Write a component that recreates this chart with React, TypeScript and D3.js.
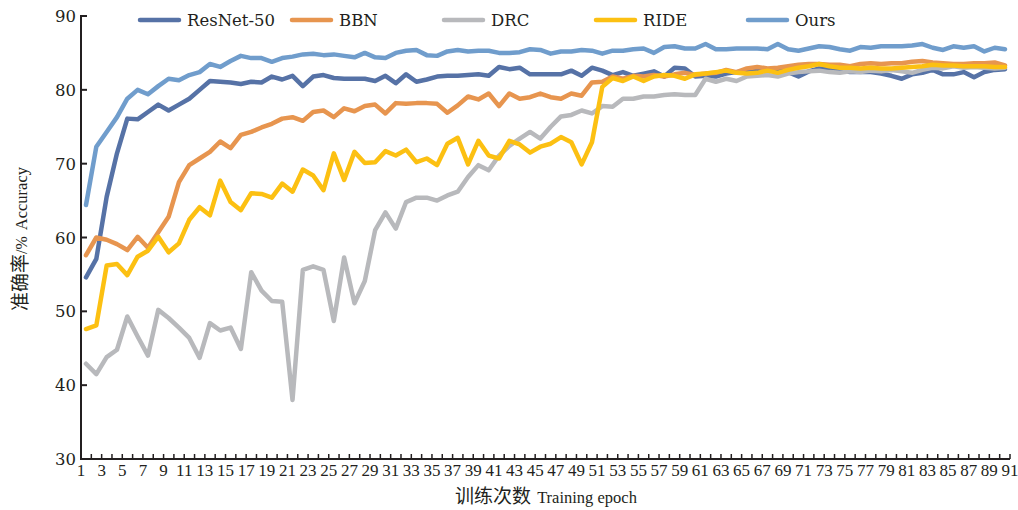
import React from "react";
import * as d3 from "d3";

// accuracy (%) per training epoch
const resnet = [
  54.6, 57.1, 65.5, 71.4, 76.1, 76.0, 77.0, 78.0, 77.2, 78.0,
  78.8, 80.0, 81.2, 81.1, 81.0, 80.8, 81.1, 81.0, 81.8, 81.4,
  81.9, 80.5, 81.8, 82.0, 81.6, 81.5, 81.5, 81.5, 81.2, 81.9,
  80.9, 82.1, 81.1, 81.4, 81.8, 81.9, 81.9, 82.0, 82.1, 81.9,
  83.1, 82.8, 83.0, 82.1, 82.1, 82.1, 82.1, 82.6, 81.9, 83.0,
  82.6, 82.0, 82.4, 81.9, 82.2, 82.5, 81.8, 83.0, 82.9, 81.8,
  81.9, 81.8, 82.2, 82.4, 82.6, 82.7, 82.8, 82.7, 82.4, 81.8,
  82.5, 82.9, 82.8, 82.6, 82.4, 82.4, 82.4, 82.2, 81.9, 81.5,
  82.1, 82.3, 82.7, 82.1, 82.1, 82.4, 81.7, 82.4, 82.7, 82.8,
];
const bbn = [
  57.6, 60.0, 59.7, 59.1, 58.3, 60.1, 58.6, 60.7, 62.8, 67.5,
  69.8, 70.7, 71.6, 73.0, 72.1, 73.9, 74.3, 74.9, 75.4, 76.1,
  76.3, 75.8, 77.0, 77.2, 76.3, 77.5, 77.1, 77.8, 78.0, 76.8,
  78.2, 78.1, 78.2, 78.2, 78.1, 76.9, 77.9, 79.1, 78.7, 79.5,
  77.8, 79.5, 78.8, 79.0, 79.5, 79.0, 78.8, 79.5, 79.2, 81.0,
  81.1, 81.8, 81.5, 81.9, 81.8, 82.0, 81.8, 82.1, 82.3, 82.0,
  82.2, 82.3, 82.7, 82.4, 82.9, 83.1, 82.9, 83.0, 83.2, 83.4,
  83.5, 83.5, 83.4, 83.4, 83.2, 83.5, 83.6, 83.5, 83.6, 83.6,
  83.8, 83.9, 83.7, 83.6, 83.5, 83.5, 83.6, 83.6, 83.7, 83.3,
];
const drc = [
  42.9, 41.5, 43.8, 44.8, 49.3, 46.6, 44.0, 50.2, 49.1, 47.8,
  46.4, 43.7, 48.4, 47.4, 47.8, 44.9, 55.3, 52.8, 51.4, 51.3,
  38.0, 55.6, 56.1, 55.6, 48.7, 57.3, 51.1, 54.1, 61.0, 63.4,
  61.2, 64.8, 65.4, 65.4, 65.0, 65.7, 66.2, 68.2, 69.8, 69.1,
  71.1, 72.4, 73.4, 74.3, 73.4, 75.0, 76.4, 76.6, 77.2, 76.8,
  77.8, 77.7, 78.8, 78.8, 79.1, 79.1, 79.3, 79.4, 79.3, 79.3,
  81.5, 81.1, 81.5, 81.2, 81.8, 81.9, 82.0, 81.8, 82.2, 82.4,
  82.5, 82.6, 82.4, 82.3, 82.5, 82.4, 82.6, 82.5, 82.7, 82.5,
  82.3, 82.7, 83.0, 82.9, 83.2, 83.0, 83.1, 83.0, 82.9, 83.0,
];
const ride = [
  47.6, 48.1, 56.2, 56.4, 54.9, 57.4, 58.2, 60.1, 58.0, 59.2,
  62.4, 64.1, 63.0, 67.7, 64.8, 63.7, 66.0, 65.9, 65.4, 67.3,
  66.2, 69.2, 68.4, 66.4, 71.4, 67.8, 71.6, 70.1, 70.2, 71.7,
  71.1, 71.9, 70.2, 70.7, 69.8, 72.7, 73.5, 69.9, 73.1, 71.1,
  70.7, 73.1, 72.6, 71.5, 72.3, 72.7, 73.6, 72.9, 69.9, 72.9,
  80.4, 81.6, 81.2, 81.8, 81.2, 81.8, 82.0, 81.9, 81.5, 82.1,
  82.2, 82.4, 82.6, 82.3, 82.2, 82.3, 82.6, 82.3, 82.7, 83.0,
  83.2, 83.5, 83.2, 83.0, 83.0, 82.9, 83.0, 82.9, 82.9, 83.0,
  83.1, 83.2, 83.4, 83.3, 83.3, 83.2, 83.2, 83.2, 83.1, 83.1,
];
const ours = [
  64.4, 72.3, 74.3, 76.3, 78.8, 80.0, 79.4, 80.5, 81.5, 81.3,
  82.0, 82.4, 83.5, 83.1, 83.9, 84.6, 84.3, 84.3, 83.8, 84.3,
  84.5, 84.8, 84.9, 84.7, 84.8, 84.6, 84.4, 85.0, 84.4, 84.3,
  85.0, 85.3, 85.4, 84.7, 84.6, 85.2, 85.4, 85.2, 85.3, 85.3,
  85.0, 85.0, 85.1, 85.5, 85.4, 84.9, 85.2, 85.2, 85.4, 85.3,
  84.9, 85.3, 85.3, 85.5, 85.6, 85.0, 85.8, 85.9, 85.6, 85.6,
  86.2, 85.5, 85.5, 85.6, 85.6, 85.6, 85.5, 86.2, 85.5, 85.3,
  85.6, 85.9, 85.8, 85.5, 85.3, 85.8, 85.7, 85.9, 85.9, 85.9,
  86.0, 86.2, 85.7, 85.4, 85.9, 85.7, 85.9, 85.2, 85.7, 85.5,
];

const seriesNames = ["ResNet-50", "BBN", "DRC", "RIDE", "Ours"];
const seriesColors = ["#5672a6", "#e7954f", "#b8b9bc", "#fcc012", "#709dcc"];
const yTicks = [30, 40, 50, 60, 70, 80, 90];

const W = 1018;
const H = 510;
const serif = "'Liberation Serif', 'DejaVu Serif', serif";
const wideSerif = "'DejaVu Serif', serif";
const cjk = "'Noto Sans CJK SC', sans-serif";
const ink = "#231f20";

export default function App() {
  const allSeries = [resnet, bbn, drc, ride, ours];
  const epochs = d3.range(1, 92);
  const labelEpochs = epochs.filter((e) => e % 2 === 1);

  const axisX = d3.scaleLinear().domain([1, 91]).range([81, 1010]);
  // points sit between tick marks
  const px = d3.scaleLinear().domain([1, resnet.length]).range([86, 1005]);
  const y = d3.scaleLinear().domain([30, 90]).range([459, 16]);

  const line = d3
    .line<number>()
    .x((_, i) => px(i + 1))
    .y((d) => y(d));

  const legendX = d3.scaleLinear().domain([0, 4]).range([140, 748]);

  return (
    <svg
      width={W}
      height={H}
      style={{ position: "absolute", left: 0, top: 0, background: "#fff" }}
      fontFamily={serif}
    >
      {allSeries.map((s, k) => (
        <path
          key={k}
          d={line(s) || ""}
          fill="none"
          stroke={seriesColors[k]}
          strokeWidth={4.5}
          strokeLinejoin="round"
          strokeLinecap="round"
        />
      ))}

      {/* y axis */}
      <line x1={axisX(1)} x2={axisX(1)} y1={y(90)} y2={y(30)} stroke={ink} strokeWidth={2} />
      {yTicks.map((t) => (
        <g key={t}>
          <line x1={axisX(1) - 1} x2={axisX(1) + 6} y1={y(t)} y2={y(t)} stroke={ink} strokeWidth={2} />
          <text x={76} y={y(t) + 6} textAnchor="end" fontSize={16.5} fontFamily={wideSerif} fill={ink}>
            {t}
          </text>
        </g>
      ))}

      {/* x axis */}
      <line x1={axisX(1)} x2={axisX(91)} y1={y(30)} y2={y(30)} stroke={ink} strokeWidth={2} />
      {epochs.map((e) => (
        <line key={e} x1={axisX(e)} x2={axisX(e)} y1={y(30)} y2={y(30) - 5} stroke={ink} strokeWidth={1.5} />
      ))}
      {labelEpochs.map((e) => (
        <text key={e} x={axisX(e)} y={476} textAnchor="middle" fontSize={17} fill={ink}>
          {e}
        </text>
      ))}

      {/* axis titles */}
      <text x={546} y={503} textAnchor="middle" fill={ink}>
        <tspan fontSize={19} fontFamily={cjk}>训练次数</tspan>
        <tspan fontSize={16.5} dx={6}>Training epoch</tspan>
      </text>
      <text transform="translate(27,239) rotate(-90)" textAnchor="middle" fill={ink}>
        <tspan fontSize={19} fontFamily={cjk}>准确率</tspan>
        <tspan fontSize={16}>/%</tspan>
        <tspan fontSize={16.5} dx={6}>Accuracy</tspan>
      </text>

      {/* legend */}
      {seriesNames.map((n, k) => (
        <g key={n}>
          <line
            x1={legendX(k)}
            x2={legendX(k) + 39}
            y1={20}
            y2={20}
            stroke={seriesColors[k]}
            strokeWidth={4.5}
            strokeLinecap="round"
          />
          <text x={legendX(k) + 47} y={26} fontSize={16.5} fontFamily={wideSerif} fill={ink}>
            {n}
          </text>
        </g>
      ))}
    </svg>
  );
}
